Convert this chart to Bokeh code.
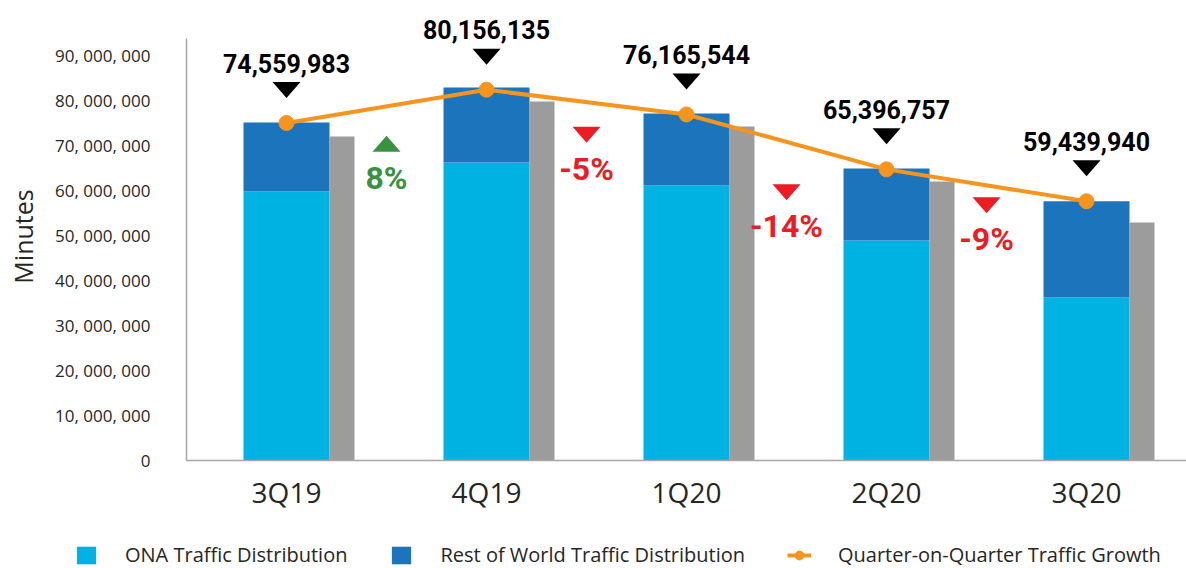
from bokeh.plotting import figure
from bokeh.layouts import column
from bokeh.models import Range1d, FixedTicker, Legend, LegendItem, ColumnDataSource
from bokeh.transform import dodge
from bokeh.core.properties import value
from bokeh.embed import file_html
from bokeh.resources import INLINE

# ---------------- data ----------------
quarters = ["3Q19", "4Q19", "1Q20", "2Q20", "3Q20"]
ona_minutes = [59_800_000, 66_200_000, 61_100_000, 48_900_000, 36_200_000]
row_minutes = [15_300_000, 16_700_000, 16_000_000, 16_000_000, 21_400_000]
comparison_minutes = [72_000_000, 79_800_000, 74_200_000, 62_000_000, 52_900_000]
growth_line = [75_000_000, 82_400_000, 76_900_000, 64_700_000, 57_600_000]
total_labels = ["74,559,983", "80,156,135", "76,165,544", "65,396,757", "59,439,940"]
qoq_labels = ["8%", "-5%", "-14%", "-9%"]
qoq_up = [True, False, False, False]
y_ticks = [0, 10_000_000, 20_000_000, 30_000_000, 40_000_000,
           50_000_000, 60_000_000, 70_000_000, 80_000_000, 90_000_000]

# ---------------- layout (annotation placement) ----------------
qoq_marker_y = [70_400_000, 72_400_000, 59_600_000, 56_700_000]
AXIS_TOP = 93_800_000
W, H = 1186, 520
LEFT, TOP, BOTTOM = 186, 12, 60
frame_w = W - LEFT
frame_h = H - TOP - BOTTOM
PX_PER_UNIT_Y = 4.5 / 1_000_000
Y_MAX = frame_h / PX_PER_UNIT_Y
px_x = len(quarters) / frame_w          # data units per px (x)
px_y = 1 / PX_PER_UNIT_Y                # data units per px (y)

C_ONA = "#00B2E1"
C_ROW = "#1C75BC"
C_GRAY = "#9D9C9C"
C_LINE = "#F7941D"
C_GREEN = "#3A9140"
C_RED = "#EC1C24"
C_TEXT = "#262626"

idx = list(range(len(quarters)))

p = figure(width=W, height=H, output_backend="svg", toolbar_location=None,
           x_range=Range1d(-0.5, len(quarters) - 0.5), y_range=Range1d(0, Y_MAX),
           min_border_left=LEFT, min_border_right=0, min_border_top=TOP,
           min_border_bottom=BOTTOM)
p.frame_align = False
p.outline_line_color = None
p.xgrid.visible = False
p.ygrid.visible = False

src = ColumnDataSource(dict(x=idx, ona=ona_minutes, row=row_minutes,
                            top=[a + b for a, b in zip(ona_minutes, row_minutes)],
                            cmp=comparison_minutes, line=growth_line))

BAR_W = 0.43
r_ona = p.vbar(x="x", bottom=0, top="ona", width=BAR_W, source=src,
               fill_color=C_ONA, line_color=None)
r_row = p.vbar(x="x", bottom="ona", top="top", width=BAR_W, source=src,
               fill_color=C_ROW, line_color=None)
p.vbar(x=dodge("x", BAR_W / 2 + 0.0625, range=p.x_range), bottom=0, top="cmp",
       width=0.125, source=src, fill_color=C_GRAY, line_color=None)

r_line = p.line(x="x", y="line", source=src, line_color=C_LINE, line_width=4)
r_dot = p.scatter(x="x", y="line", source=src, size=15, fill_color=C_LINE,
                  line_color=C_LINE)

# black down triangles + total labels
hw = 14 * px_x
hh = 8 * px_y
lift = 33 * px_y
txs, tys = [], []
for i, v in zip(idx, growth_line):
    c = v + lift
    txs.append([i - hw, i + hw, i])
    tys.append([c + hh, c + hh, c - hh])
p.patches(xs=txs, ys=tys, fill_color="black", line_color=None)
p.text(x=idx, y=[v + lift for v in growth_line], text=total_labels,
       y_offset=-27, text_align="center", text_baseline="middle",
       text_font=value("Roboto"), text_font_style="bold",
       text_font_size="25px", text_color="black")

# quarter-on-quarter markers
mx = [i + 0.5 for i in idx[:-1]]
gxs, gys, gcol = [], [], []
for x, y, up in zip(mx, qoq_marker_y, qoq_up):
    gxs.append([x - hw, x + hw, x])
    if up:
        gys.append([y - hh, y - hh, y + hh])
    else:
        gys.append([y + hh, y + hh, y - hh])
    gcol.append(C_GREEN if up else C_RED)
p.patches(xs=gxs, ys=gys, fill_color=gcol, line_color=None)
p.text(x=mx, y=qoq_marker_y, text=qoq_labels, y_offset=34,
       text_align="center", text_baseline="middle",
       text_font=value("Roboto"), text_font_style="bold",
       text_font_size="32px", text_color=gcol)

# axes
p.xaxis.ticker = FixedTicker(ticks=idx)
p.xaxis.major_label_overrides = {i: q for i, q in zip(idx, quarters)}
p.xaxis.major_label_text_font = "Open Sans"
p.xaxis.major_label_text_font_size = "28px"
p.xaxis.major_label_text_color = C_TEXT
p.xaxis.major_label_standoff = 6
p.xaxis.major_tick_line_color = None
p.xaxis.minor_tick_line_color = None
p.xaxis.axis_line_color = "#A6A6A6"
p.xaxis.axis_line_width = 1.5

p.yaxis.ticker = FixedTicker(ticks=y_ticks)
p.yaxis.bounds = (0, AXIS_TOP)
p.yaxis.major_label_overrides = {t: f"{t:,}".replace(",", ", ") for t in y_ticks}
p.yaxis.major_label_text_font = "Open Sans"
p.yaxis.major_label_text_font_size = "17px"
p.yaxis.major_label_text_color = C_TEXT
p.yaxis.major_label_standoff = 30
p.yaxis.major_tick_line_color = None
p.yaxis.minor_tick_line_color = None
p.yaxis.axis_line_color = "#A6A6A6"
p.yaxis.axis_line_width = 1.5
p.yaxis.axis_label = "Minutes"
p.yaxis.axis_label_text_font = "Open Sans"
p.yaxis.axis_label_text_font_size = "25px"
p.yaxis.axis_label_text_font_style = "normal"
p.yaxis.axis_label_text_color = C_TEXT
p.yaxis.axis_label_standoff = 12

# ---------------- legend strip ----------------
LH = 48
lg = figure(width=W, height=LH, output_backend="svg", toolbar_location=None,
            x_range=Range1d(-2, -1), y_range=Range1d(-2, -1),
            x_axis_type=None, y_axis_type=None,
            min_border_left=0, min_border_right=0, min_border_top=0,
            min_border_bottom=0)
lg.frame_align = False
lg.outline_line_color = None
lg.xgrid.visible = False
lg.ygrid.visible = False
# proxy renderers (same data, outside this strip's visible ranges)
l_ona = lg.vbar(x="x", top="ona", width=BAR_W, source=src,
                fill_color=C_ONA, line_color=None)
l_row = lg.vbar(x="x", bottom="ona", top="top", width=BAR_W, source=src,
                fill_color=C_ROW, line_color=None)
l_line = lg.line(x="x", y="line", source=src, line_color=C_LINE, line_width=4)
l_dot = lg.scatter(x="x", y="line", source=src, size=15, fill_color=C_LINE,
                   line_color=C_LINE)

legend = Legend(items=[
    LegendItem(label="ONA Traffic Distribution", renderers=[l_ona]),
    LegendItem(label="Rest of World Traffic Distribution", renderers=[l_row]),
    LegendItem(label="Quarter-on-Quarter Traffic Growth", renderers=[l_line, l_dot]),
], orientation="horizontal", location=(74, 0))
legend.padding = 0
legend.margin = 0
legend.spacing = 42
legend.label_standoff = 27
legend.glyph_width = 24
legend.glyph_height = 22
legend.border_line_color = None
legend.background_fill_alpha = 0
legend.label_text_font = "Open Sans"
legend.label_text_font_size = "20px"
legend.label_text_color = C_TEXT
lg.add_layout(legend)

layout = column(p, lg, spacing=0)
open("out.html", "w").write(file_html(layout, INLINE))
